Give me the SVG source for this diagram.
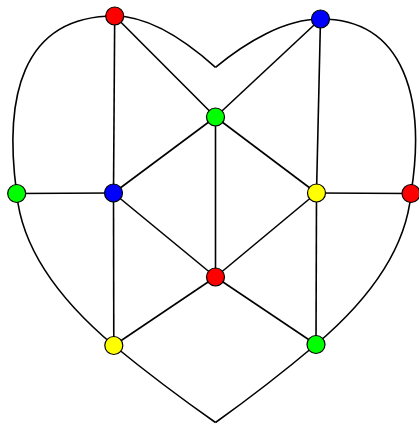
<svg xmlns="http://www.w3.org/2000/svg" width="419" height="424" viewBox="0 0 419 424">
<style>
.e{fill:none;stroke:#000;stroke-width:1.6}
.n{stroke:#000;stroke-width:1.2}
.r{fill:#ff0000}.g{fill:#00ff00}.b{fill:#0000ff}.y{fill:#ffff00}
</style>
<rect width="419" height="424" fill="#fff"/>
<g id="connectors" class="e">
<path d="M114.7,16 C150,16 185,40 215.5,67.3"/>
<path d="M320.5,19 C285,19 246,42 215.5,67.3"/>
<path d="M114.7,16 C20,16 4,100 16.7,193.5"/>
<path d="M320.5,19 C405,19 426,100 411,193.5"/>
<path d="M16.7,193.5 Q24,270 113.8,345.5"/>
<path d="M411,193.5 Q404,270 316,344.5"/>
<path d="M113.8,345.5 Q162,385 215.5,422.5"/>
<path d="M316,344.5 Q268,385 215.5,422.5"/>
<line x1="114.7" y1="16" x2="113.5" y2="193"/>
<line x1="114.7" y1="16" x2="215.5" y2="117"/>
<line x1="320.5" y1="19" x2="215.5" y2="117"/>
<line x1="320.5" y1="19" x2="316.5" y2="193"/>
<line x1="215.5" y1="117" x2="113.5" y2="193"/>
<line x1="215.5" y1="117" x2="316.5" y2="193"/>
<line x1="215.5" y1="117" x2="215.5" y2="277"/>
<line x1="16.7" y1="193.5" x2="113.5" y2="193"/>
<line x1="316.5" y1="193" x2="411" y2="193.5"/>
<line x1="113.5" y1="193" x2="215.5" y2="277"/>
<line x1="113.5" y1="193" x2="113.8" y2="345.5"/>
<line x1="316.5" y1="193" x2="215.5" y2="277"/>
<line x1="316.5" y1="193" x2="316" y2="344.5"/>
<line x1="215.5" y1="277" x2="113.8" y2="345.5"/>
<line x1="215.5" y1="277" x2="316" y2="344.5"/>
</g>
<g id="n1"><circle class="n r" cx="114.7" cy="16" r="9"/></g>
<g id="n2"><circle class="n b" cx="320.5" cy="19" r="9"/></g>
<g id="n3"><circle class="n g" cx="215.5" cy="117" r="9"/></g>
<g id="n4"><circle class="n g" cx="16.7" cy="193.5" r="9"/></g>
<g id="n5"><circle class="n b" cx="113.5" cy="193" r="9"/></g>
<g id="n6"><circle class="n y" cx="316.5" cy="193" r="9"/></g>
<g id="n7"><circle class="n r" cx="411" cy="193.5" r="9"/></g>
<g id="n8"><circle class="n r" cx="215.5" cy="277" r="9"/></g>
<g id="n9"><circle class="n y" cx="113.8" cy="345.5" r="9"/></g>
<g id="n10"><circle class="n g" cx="316" cy="344.5" r="9"/></g>
</svg>
